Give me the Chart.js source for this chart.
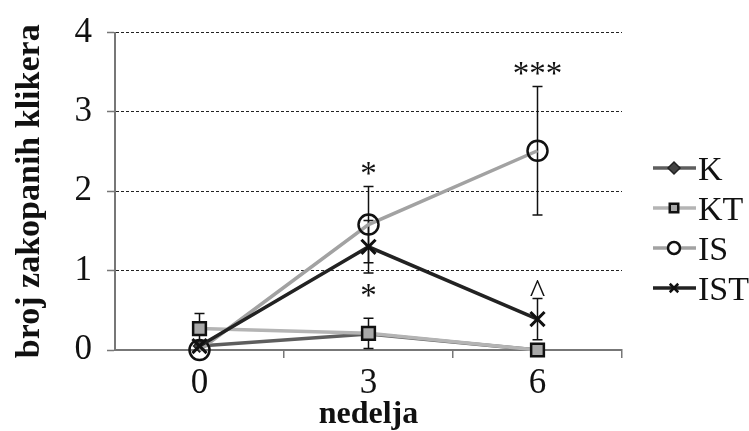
<!DOCTYPE html>
<html><head><meta charset="utf-8">
<script src="https://cdn.jsdelivr.net/npm/chart.js@4/dist/chart.umd.min.js"></script>
<style>html,body{margin:0;padding:0;background:#fff}#wrap{width:749px;height:431px}</style>
</head><body><div id="wrap"><canvas id="c" width="749" height="431"></canvas></div>
<script>
const weeks = ['0', '3', '6'];
const seriesNames = ['K', 'KT', 'IS', 'IST'];
const K = [0.05, 0.2, 0];
const KT = [0.27, 0.21, 0];
const IS = [0, 1.58, 2.51];
const IST = [0.05, 1.3, 0.39];
const K_err = [0, 0, 0];
const KT_err = [0.19, 0.19, 0];
const IS_err = [0, 0.48, 0.81];
const IST_err = [0, 0.33, 0.26];
// significance marks: [series index, category index, text, side]
const sigMarks = [[2, 1, '*', 'above'], [3, 1, '*', 'below'], [2, 2, '***', 'above'], [3, 2, '^', 'above']];
const yTicks = [0, 1, 2, 3, 4];

const SERIF = '"Liberation Serif", "Times New Roman", serif';
const values = [K, KT, IS, IST];
const errs = [K_err, KT_err, IS_err, IST_err];
const lineColors = ['#5e5e5e', '#b4b4b4', '#a2a2a2', '#222222'];
const styles = [
  {pointStyle: 'rectRot', radius: 6, bg: '#444', bc: '#222', bw: 1.5, order: 4},
  {pointStyle: 'rect', radius: 9, bg: '#a9a9a9', bc: '#111', bw: 2.5, order: 3},
  {pointStyle: 'circle', radius: 10, bg: 'rgba(255,255,255,0)', bc: '#111', bw: 2.5, order: 2},
  {pointStyle: 'crossRot', radius: 10, bg: '#111', bc: '#111', bw: 3, order: 1}
];

const datasets = seriesNames.map((n, i) => ({
  label: n, data: values[i],
  borderColor: lineColors[i], borderWidth: 3.5,
  pointStyle: styles[i].pointStyle, pointRadius: styles[i].radius,
  pointBackgroundColor: styles[i].bg, pointBorderColor: styles[i].bc,
  pointBorderWidth: styles[i].bw, pointHoverRadius: styles[i].radius,
  order: styles[i].order, tension: 0, fill: false, clip: false
}));

const errorBars = {
  id: 'errorBars',
  beforeDatasetsDraw(chart) {
    const ctx = chart.ctx, xs = chart.scales.x, ys = chart.scales.y;
    ctx.save();
    ctx.strokeStyle = '#111'; ctx.lineWidth = 1.5;
    values.forEach((vals, i) => {
      vals.forEach((v, j) => {
        const e = errs[i][j]; if (!e) return;
        const x = xs.getPixelForValue(j);
        const y1 = ys.getPixelForValue(v + e), y2 = ys.getPixelForValue(Math.max(0, v - e));
        ctx.beginPath();
        ctx.moveTo(x, y1); ctx.lineTo(x, y2);
        ctx.moveTo(x - 5, y1); ctx.lineTo(x + 5, y1);
        ctx.moveTo(x - 5, y2); ctx.lineTo(x + 5, y2);
        ctx.stroke();
      });
    });
    ctx.restore();
  },
  afterDatasetsDraw(chart) {
    const ctx = chart.ctx, xs = chart.scales.x, ys = chart.scales.y;
    ctx.save();
    ctx.fillStyle = '#111'; ctx.textAlign = 'center'; ctx.textBaseline = 'alphabetic';
    ctx.font = '33px ' + SERIF;
    sigMarks.forEach(([si, ci, txt, side]) => {
      const v = values[si][ci], e = errs[si][ci];
      const x = xs.getPixelForValue(ci);
      if (txt === '^') { ctx.fillText(txt, x, ys.getPixelForValue(v + e) + 4); return; }
      if (side === 'above') ctx.fillText(txt, x, ys.getPixelForValue(v + e) - 2);
      else ctx.fillText(txt, x, ys.getPixelForValue(v - e) + 33);
    });
    ctx.restore();
  }
};

const legendPlugin = {
  id: 'sideLegend',
  afterDraw(chart) {
    const ctx = chart.ctx;
    const x0 = 653, x1 = 696, xm = 674, tx = 698, rows = [168, 208, 248, 288];
    ctx.save();
    chart.data.datasets.forEach((ds, i) => {
      const y = rows[i];
      ctx.strokeStyle = ds.borderColor; ctx.lineWidth = 3.5;
      ctx.beginPath(); ctx.moveTo(x0, y); ctx.lineTo(x1, y); ctx.stroke();
      ctx.fillStyle = ds.pointBackgroundColor === 'rgba(255,255,255,0)' ? '#fff' : ds.pointBackgroundColor;
      ctx.strokeStyle = ds.pointBorderColor;
      ctx.lineWidth = Math.min(2.5, ds.pointBorderWidth);
      Chart.helpers.drawPoint(ctx, {
        pointStyle: ds.pointStyle, radius: ds.pointStyle === 'rectRot' ? 6 : 6, rotation: 0,
        borderWidth: ctx.lineWidth
      }, xm, y);
      ctx.fillStyle = '#111'; ctx.font = '34px ' + SERIF;
      ctx.textAlign = 'left'; ctx.textBaseline = 'alphabetic';
      ctx.fillText(ds.label, tx, y + 12);
    });
    ctx.restore();
  }
};

new Chart(document.getElementById('c'), {
  type: 'line',
  data: {labels: weeks, datasets},
  plugins: [errorBars, legendPlugin],
  options: {
    responsive: false, animation: false,
    layout: {padding: {top: 30, right: 127, left: 0, bottom: 0}},
    plugins: {legend: {display: false}, tooltip: {enabled: false}},
    scales: {
      x: {
        type: 'category', offset: true,
        grid: {offset: true, drawOnChartArea: false, drawTicks: true, tickLength: 8, lineWidth: 1.5,
          color: (c) => (c.index === 0 || c.index === 3) ? 'rgba(0,0,0,0)' : '#777'},
        border: {display: true, color: '#777', width: 2},
        ticks: {color: '#111', font: {family: SERIF, size: 35, lineHeight: 1}, padding: 8, maxRotation: 0},
        title: {display: true, text: 'nedelja', color: '#111', font: {family: SERIF, size: 32, weight: 'bold', lineHeight: 1}, padding: {top: 0, bottom: 0}},
        afterFit(s) { s.height = 81; }
      },
      y: {
        min: 0, max: 4,
        afterBuildTicks(s) { s.ticks = yTicks.map(v => ({value: v})); },
        grid: {color: '#222', lineWidth: 1, drawTicks: true, tickLength: 8, tickColor: '#777', tickWidth: 1.5, tickBorderDash: []},
        border: {display: true, color: '#777', width: 2, dash: [3, 2]},
        ticks: {color: '#111', font: {family: SERIF, size: 35, lineHeight: 1}, padding: 15},
        title: {display: true, text: 'broj zakopanih klikera', color: '#111', font: {family: SERIF, size: 34, weight: 'bold', lineHeight: 1}, padding: {top: 13, bottom: 0}},
        afterFit(s) { s.width = 115; }
      }
    }
  }
});
</script></body></html>
